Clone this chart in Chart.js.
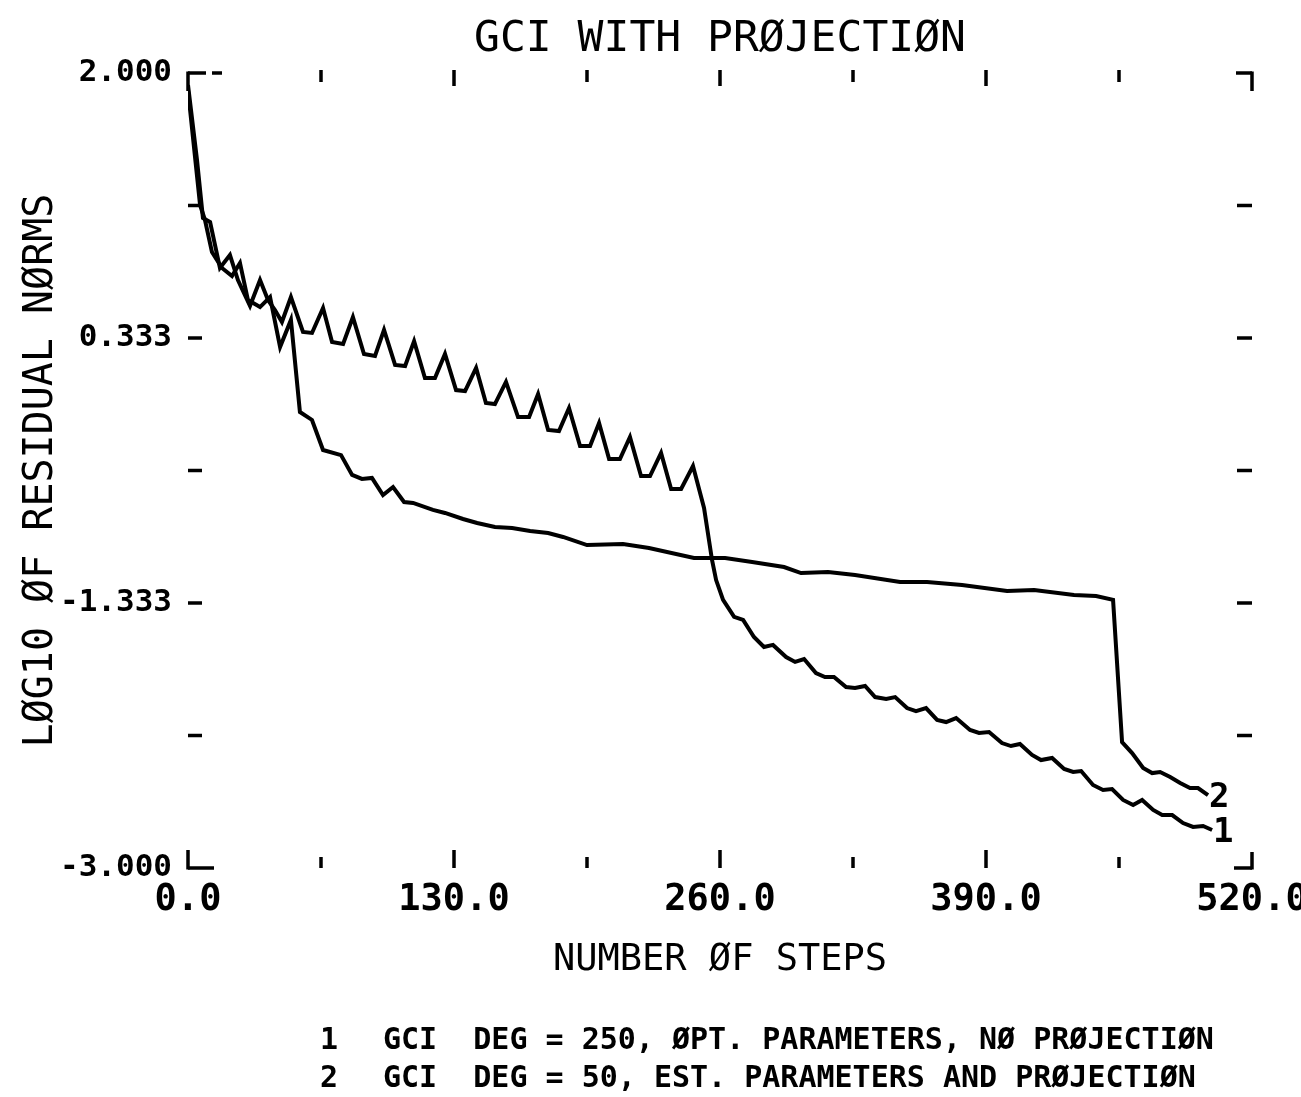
<!DOCTYPE html>
<html>
<head>
<meta charset="utf-8">
<script src="https://cdn.jsdelivr.net/npm/chart.js@4.4.1/dist/chart.umd.min.js"></script>
<style>
  html, body { margin: 0; padding: 0; background: #fff; }
  canvas { display: block; }
</style>
</head>
<body>
<canvas id="plot" width="1301" height="1097"></canvas>
<script>
// step counts and log10 residual norms
var steps1 = [0, 4.4, 7.3, 10.8, 15.6, 20.5, 24.4, 30.3, 35.2, 39.1,
  42.5, 45.9, 50.3, 56.2, 60.6, 66.0, 70.4, 75.8, 80.6, 86.0,
  91.4, 95.8, 101.2, 106.1, 110.5, 115.8, 120.7, 125.6, 131.0, 135.4,
  140.8, 145.6, 150.0, 155.4, 161.3, 166.7, 171.1, 176.0, 181.3, 186.2,
  191.6, 196.5, 200.9, 205.8, 211.1, 216.0, 221.4, 225.8, 231.2, 236.1,
  241.0, 246.8, 252.2, 256.1, 258.1, 261.5, 266.9, 271.3, 276.6, 281.5,
  285.9, 292.3, 296.7, 301.1, 306.9, 311.3, 315.7, 321.6, 326.0, 330.9,
  335.8, 341.2, 345.6, 351.4, 355.8, 360.7, 366.1, 370.5, 375.4, 382.2,
  386.6, 391.5, 397.8, 402.2, 406.6, 412.5, 416.9, 422.3, 428.2, 432.6,
  436.5, 442.3, 447.2, 451.6, 457.0, 461.9, 466.3, 471.7, 476.1, 481.0,
  486.3, 491.2, 496.1, 500.5];
var norms1 = [1.925, 1.453, 1.088, 1.063, 0.774, 0.855, 0.698, 0.535, 0.698, 0.572,
  0.509, 0.434, 0.591, 0.371, 0.365, 0.522, 0.308, 0.296, 0.465, 0.233,
  0.220, 0.384, 0.164, 0.157, 0.314, 0.082, 0.082, 0.233, 0.006, 0.000,
  0.145, -0.075, -0.082, 0.057, -0.164, -0.164, -0.019, -0.245, -0.252, -0.107,
  -0.346, -0.346, -0.201, -0.428, -0.428, -0.289, -0.535, -0.535, -0.390, -0.616,
  -0.616, -0.472, -0.736, -1.063, -1.189, -1.314, -1.421, -1.440, -1.547, -1.610,
  -1.597, -1.673, -1.704, -1.686, -1.774, -1.799, -1.799, -1.862, -1.868, -1.855,
  -1.925, -1.937, -1.925, -1.994, -2.013, -1.994, -2.069, -2.082, -2.057, -2.132,
  -2.151, -2.145, -2.214, -2.233, -2.220, -2.289, -2.321, -2.308, -2.377, -2.396,
  -2.390, -2.478, -2.509, -2.503, -2.572, -2.604, -2.572, -2.635, -2.667, -2.667,
  -2.717, -2.742, -2.736, -2.761];

var steps2 = [0, 5.9, 8.3, 11.7, 16.6, 21.5, 25.4, 29.3, 35.2, 40.1,
  45.0, 50.3, 54.7, 60.6, 66.0, 74.8, 80.2, 85.0, 89.9, 95.3,
  100.2, 105.6, 110.0, 119.7, 125.6, 134.4, 141.3, 150.0, 158.4, 167.2,
  176.0, 183.3, 195.0, 212.6, 225.3, 247.3, 262.5, 275.7, 291.3, 299.6,
  312.8, 326.0, 348.0, 361.2, 378.3, 400.3, 413.5, 433.0, 443.8, 452.1,
  456.5, 461.4, 466.8, 471.2, 475.1, 480.0, 484.9, 489.7, 493.6, 498.5];
var norms2 = [1.893, 1.170, 1.075, 0.874, 0.774, 0.723, 0.805, 0.572, 0.528, 0.591,
  0.277, 0.447, -0.132, -0.182, -0.371, -0.403, -0.528, -0.553, -0.547, -0.654,
  -0.604, -0.698, -0.704, -0.748, -0.767, -0.805, -0.830, -0.855, -0.862, -0.881,
  -0.893, -0.918, -0.969, -0.962, -0.987, -1.050, -1.050, -1.075, -1.107, -1.145,
  -1.138, -1.157, -1.201, -1.201, -1.220, -1.258, -1.252, -1.283, -1.289, -1.314,
  -2.208, -2.277, -2.371, -2.403, -2.396, -2.428, -2.465, -2.497, -2.497, -2.541];

var seriesTags = ['1', '2'];
var noteLines = [
  'GCI  DEG = 250, ØPT. PARAMETERS, NØ PRØJECTIØN',
  'GCI  DEG = 50, EST. PARAMETERS AND PRØJECTIØN'
];

var xTickValues = [0, 65, 130, 195, 260, 325, 390, 455, 520];
var xTickLabels = ['0.0', '', '130.0', '', '260.0', '', '390.0', '', '520.0'];
var yTickValues = [2.0, 1.1667, 0.3333, -0.5, -1.3333, -2.1667, -3.0];
var yTickLabels = ['2.000', '', '0.333', '', '-1.333', '', '-3.000'];

var FONT = '"DejaVu Sans Mono", "Liberation Mono", monospace';

function toPoints(xs, ys) {
  return xs.map(function(x, i) { return {x: x, y: ys[i]}; });
}

var frameMarks = {
  id: 'frameMarks',
  afterDatasetsDraw: function(chart) {
    var ctx = chart.ctx, a = chart.chartArea;
    var xs = chart.scales.x, ys = chart.scales.y;
    function seg(x1, y1, x2, y2) {
      ctx.beginPath(); ctx.moveTo(x1, y1); ctx.lineTo(x2, y2); ctx.stroke();
    }
    ctx.save();
    ctx.strokeStyle = '#000';
    ctx.lineWidth = 3.5;
    // ticks inside the frame
    xTickValues.forEach(function(v, i) {
      if (i === 0 || i === xTickValues.length - 1) return;
      var px = xs.getPixelForValue(v);
      var major = xTickLabels[i] !== '';
      seg(px, a.top - 3, px, a.top + (major ? 13 : 9));
      seg(px, a.bottom, px, a.bottom - (major ? 18 : 11));
    });
    yTickValues.forEach(function(v, i) {
      if (i === 0 || i === yTickValues.length - 1) return;
      var py = ys.getPixelForValue(v);
      seg(a.left, py, a.left + 14, py);
      seg(a.right - 15, py, a.right, py);
    });
    // corner brackets
    seg(a.left, a.top, a.left + 18, a.top);
    seg(a.left, a.top - 1.5, a.left, a.top + 18);
    seg(a.left + 24, a.top, a.left + 34, a.top);
    seg(a.right - 16, a.top, a.right, a.top);
    seg(a.right, a.top - 1.5, a.right, a.top + 18);
    seg(a.left, a.bottom, a.left + 26, a.bottom);
    seg(a.left, a.bottom - 18, a.left, a.bottom + 1.5);
    seg(a.right - 18, a.bottom, a.right, a.bottom);
    seg(a.right, a.bottom - 16, a.right, a.bottom + 1.5);

    // curve numbers at the line ends
    ctx.fillStyle = '#000';
    ctx.font = 'bold 34px ' + FONT;
    ctx.textAlign = 'left';
    ctx.textBaseline = 'middle';
    chart.data.datasets.forEach(function(ds, i) {
      var pts = chart.getDatasetMeta(i).data;
      var last = pts[pts.length - 1];
      ctx.fillText(seriesTags[i], last.x + 1, last.y + 3);
    });
    ctx.restore();
  },
  afterDraw: function(chart) {
    var ctx = chart.ctx;
    ctx.save();
    ctx.fillStyle = '#000';
    ctx.font = 'bold 30px ' + FONT;
    ctx.textBaseline = 'middle';
    ctx.textAlign = 'left';
    noteLines.forEach(function(t, i) {
      var yy = 1041 + i * 38;
      ctx.fillText(seriesTags[i], 320, yy);
      ctx.fillText(t, 383, yy);
    });
    ctx.restore();
  }
};

new Chart(document.getElementById('plot'), {
  type: 'line',
  data: {
    datasets: [
      {
        label: seriesTags[0],
        data: toPoints(steps1, norms1),
        borderColor: '#000',
        borderWidth: 4,
        pointRadius: 0,
        tension: 0,
        fill: false
      },
      {
        label: seriesTags[1],
        data: toPoints(steps2, norms2),
        borderColor: '#000',
        borderWidth: 4,
        pointRadius: 0,
        tension: 0,
        fill: false
      }
    ]
  },
  options: {
    responsive: false,
    animation: false,
    devicePixelRatio: 1,
    layout: { padding: { left: 0, right: 49, top: 0, bottom: 99 } },
    plugins: {
      legend: { display: false },
      tooltip: { enabled: false },
      title: {
        display: true,
        fullSize: false,
        text: 'GCI WITH PRØJECTIØN',
        color: '#000',
        font: { family: FONT, size: 43, weight: 'normal' },
        padding: { top: 14, bottom: 7.4 }
      }
    },
    scales: {
      x: {
        type: 'linear',
        min: 0,
        max: 520,
        afterBuildTicks: function(s) {
          s.ticks = xTickValues.map(function(v) { return {value: v}; });
        },
        afterFit: function(s) {
          s.height = 130;
          s.paddingLeft = 0;
          s.paddingRight = 0;
        },
        grid: { display: false, drawTicks: false },
        border: { display: false },
        ticks: {
          autoSkip: false,
          maxRotation: 0,
          padding: 10,
          color: '#000',
          font: { family: FONT, size: 37, weight: 'bold' },
          callback: function(v, i) { return xTickLabels[i]; }
        },
        title: {
          display: true,
          text: 'NUMBER ØF STEPS',
          color: '#000',
          font: { family: FONT, size: 37, weight: 'normal' },
          padding: { top: 0, bottom: 15 }
        }
      },
      y: {
        type: 'linear',
        min: -3,
        max: 2,
        afterBuildTicks: function(s) {
          s.ticks = yTickValues.map(function(v) { return {value: v}; });
        },
        afterFit: function(s) {
          s.width = 188;
          s.paddingTop = 0;
          s.paddingBottom = 0;
        },
        grid: { display: false, drawTicks: false },
        border: { display: false },
        ticks: {
          autoSkip: false,
          padding: 16,
          color: '#000',
          font: { family: FONT, size: 31, weight: 'bold' },
          callback: function(v, i) { return yTickLabels[i]; }
        },
        title: {
          display: true,
          text: 'LØG10 ØF RESIDUAL NØRMS',
          color: '#000',
          font: { family: FONT, size: 40, weight: 'normal' },
          padding: { top: 18, bottom: 0 }
        }
      }
    }
  },
  plugins: [frameMarks]
});
</script>
</body>
</html>
